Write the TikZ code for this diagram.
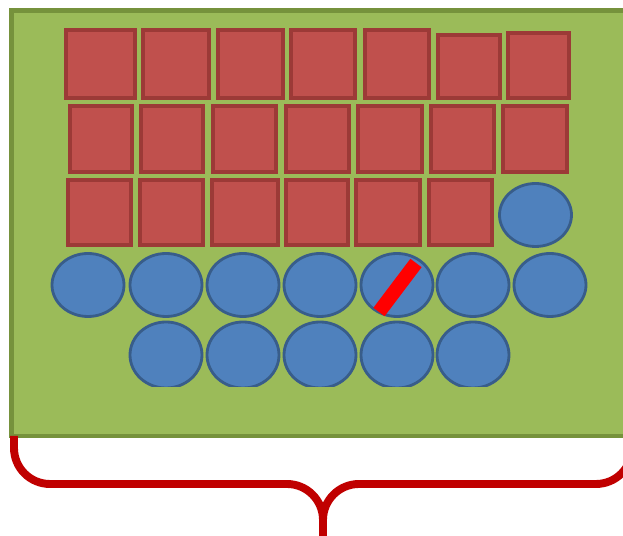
\documentclass[tikz,border=0pt]{standalone}
\usepackage{xcolor}
\usepackage{tikz}

\definecolor{boardgreen}{HTML}{9BBB59}
\definecolor{boardedge}{HTML}{76923C}
\definecolor{tilered}{HTML}{C0504D}
\definecolor{tileedge}{HTML}{9C3A37}
\definecolor{discblue}{HTML}{4F81BD}
\definecolor{discedge}{HTML}{385D8A}
\definecolor{bracered}{HTML}{C00000}

\begin{document}
\begin{tikzpicture}[x=0.02cm,y=-0.02cm,
    tile/.style={fill=tilered,draw=tileedge,line width=2pt},
    disc/.style={fill=discblue,draw=discedge,line width=1.6pt},
    bracket/.style={draw=bracered,line width=4.5pt,rounded corners=0.72cm}]
      % Picture frame
      \clip (0,0) rectangle (623,536);

      % Green board
      \draw[fill=boardgreen,draw=boardedge,line width=2.8pt] (11.5,10.5) rectangle (660,436);

      % Red squares, row by row
      \foreach \l/\t/\r/\b in {64/28/137/100,141/28/211/100,216/28/285/100,289/28/357/100,
                               363/28/431/100,436/33/502/100,506/31/571/100}
        \draw[tile] (\l+2,\t+2) rectangle (\r-2,\b-2);
      \foreach \l/\t/\r/\b in {68/104/134/174,139/104/205/174,211/104/278/174,284/104/351/174,
                               356/104/424/174,429/104/496/174,501/104/569/174}
        \draw[tile] (\l+2,\t+2) rectangle (\r-2,\b-2);
      \foreach \l/\t/\r/\b in {66/178/133/247,138/178/205/247,210/178/280/247,284/178/350/247,
                               354/178/422/247,427/178/494/247}
        \draw[tile] (\l+2,\t+2) rectangle (\r-2,\b-2);

      % Blue circles
      \draw[disc] (535.5,215) ellipse [x radius=36, y radius=31.5];
      \foreach \cx in {88,166,243,320,397,473,550}
        \draw[disc] (\cx,285) ellipse [x radius=36, y radius=31.5];

      % Bottom row, cut flat
      \begin{scope}
          \clip (0,0) rectangle (623,387);
          \foreach \cx in {166,243,320,397,473}
            \draw[disc] (\cx,355) ellipse [x radius=36, y radius=33];
      \end{scope}

      % Red stroke
      \draw[red,line width=8pt] (416,263) -- (379,312);

      % Brace
      \draw[bracket] (14,436) -- (14,484) -- (323,484) -- (323,545);
      \draw[bracket] (323,545) -- (323,484) -- (632,484) -- (632,430);

  \end{tikzpicture}
\end{document}
